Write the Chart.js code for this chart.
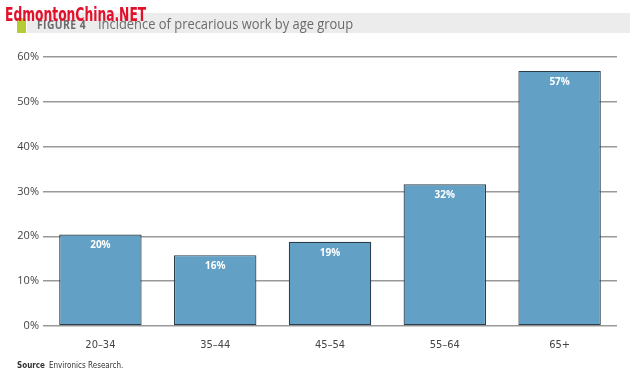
<!DOCTYPE html>
<html>
<head>
<meta charset="utf-8">
<script src="https://cdn.jsdelivr.net/npm/chart.js@4/dist/chart.umd.min.js"></script>
<style>
  html,body{margin:0;padding:0;background:#fff;}
  #wrap{position:relative;width:630px;height:382px;overflow:hidden;}
  #c{position:absolute;left:0;top:0;}
  .band{position:absolute;left:27px;top:13px;width:603px;height:20px;background:#ececec;}
  .green{position:absolute;left:17px;top:18px;width:9px;height:15px;background:#b5cc35;}
  .title{position:absolute;left:37px;top:13px;font-family:"Open Sans","Noto Sans",sans-serif;font-size:15px;color:#6a6b6e;white-space:nowrap;line-height:20px;transform:scaleX(0.86);transform-origin:left top;}
  .title b{font-size:12px;letter-spacing:0.5px;margin-right:14px;font-weight:700;}
  .wm{position:absolute;left:5px;top:3px;font-family:"Liberation Sans Narrow","DejaVu Sans Condensed",sans-serif;font-weight:700;font-size:19px;color:#e3102b;white-space:nowrap;line-height:22px;transform:scaleX(0.72);transform-origin:left top;}
  .src{position:absolute;left:17px;top:361px;font-family:"Liberation Sans Narrow","DejaVu Sans Condensed",sans-serif;font-size:8px;color:#333;white-space:nowrap;}
  .src b{margin-right:4px;}
</style>
</head>
<body>
<div id="wrap">
  <canvas id="c" width="630" height="382"></canvas>
  <div class="band"></div>
  <div class="green"></div>
  <div class="title"><b>FIGURE 4</b>Incidence of precarious work by age group</div>
  <div class="wm">EdmontonChina.NET</div>
  <div class="src"><b>Source</b>Environics Research.</div>
</div>
<script>
const categories = ["20–34", "35–44", "45–54", "55–64", "65+"];
const values = [20.4, 15.8, 18.8, 31.6, 56.9];
const yTicks = [0, 10, 20, 30, 40, 50, 60];

const valueLabels = {
  id: 'valueLabels',
  afterDatasetsDraw(chart) {
    const ctx = chart.ctx;
    const meta = chart.getDatasetMeta(0);
    ctx.save();
    ctx.fillStyle = '#ffffff';
    ctx.font = 'bold 10px "Open Sans", "Noto Sans", sans-serif';
    ctx.textAlign = 'center';
    ctx.textBaseline = 'middle';
    meta.data.forEach((bar, i) => {
      ctx.fillText(Math.round(values[i]) + '%', bar.x, bar.y + 11);
    });
    ctx.restore();
  }
};

new Chart(document.getElementById('c'), {
  type: 'bar',
  data: {
    labels: categories,
    datasets: [{
      data: values,
      backgroundColor: '#62a0c5',
      borderColor: '#2c3d4a',
      borderWidth: 1.2,
      borderSkipped: false,
      barPercentage: 0.718,
      categoryPercentage: 1.0
    }]
  },
  options: {
    responsive: false,
    animation: false,
    layout: { padding: { left: 0, right: 13, top: 57, bottom: 26 } },
    plugins: { legend: { display: false }, tooltip: { enabled: false } },
    scales: {
      x: {
        grid: { display: false },
        border: { display: false },
        ticks: { color: '#444', font: { size: 11, family: '"Liberation Sans Narrow","DejaVu Sans Condensed",sans-serif' }, padding: 5 },
        afterFit(s) { s.height = 30; }
      },
      y: {
        min: 0, max: 60,
        afterBuildTicks(s) { s.ticks = yTicks.map(v => ({ value: v })); },
        grid: { color: '#999', lineWidth: 1.5, drawTicks: false },
        border: { display: false },
        ticks: { color: '#444', font: { size: 11, family: '"Open Sans","Noto Sans",sans-serif' }, padding: 4, callback: v => v + '%' },
        afterFit(s) { s.width = 43; }
      }
    }
  },
  plugins: [valueLabels]
});
</script>
</body>
</html>
